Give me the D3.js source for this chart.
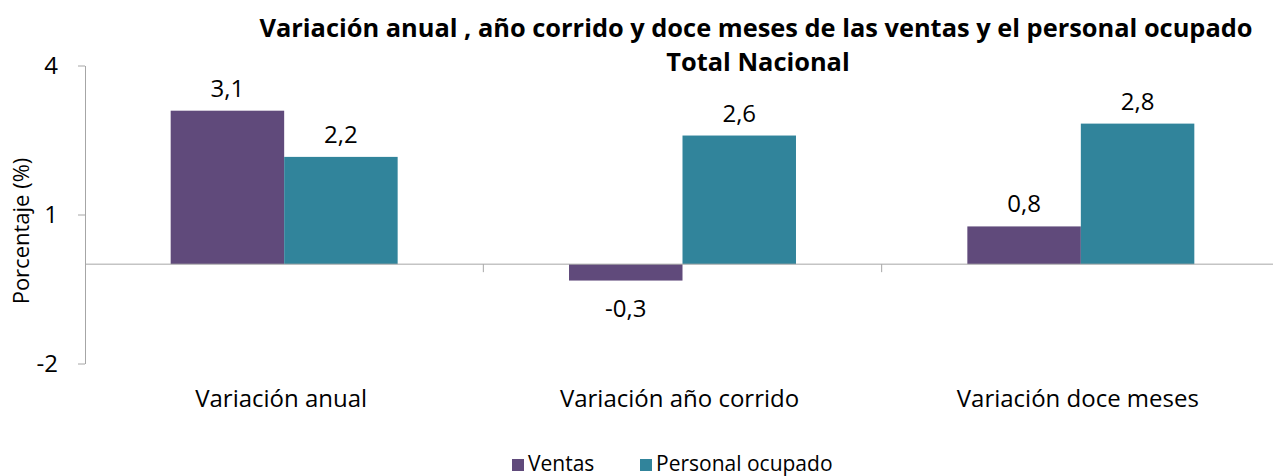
<!DOCTYPE html>
<html>
<head>
<meta charset="utf-8">
<script src="https://cdn.jsdelivr.net/npm/d3@7"></script>
<style>
  body { margin: 0; background: #fff; }
  svg { font-family: "Open Sans", "Noto Sans", sans-serif; }
</style>
</head>
<body>
<svg id="chart" width="1273" height="476"></svg>
<script>
// data
const categories = ['Variación anual', 'Variación año corrido', 'Variación doce meses'];
const seriesNames = ['Ventas', 'Personal ocupado'];
const ventas = [3.09, -0.33, 0.76];
const personal = [2.16, 2.59, 2.83];
const yTicks = [-2, 1, 4];
const colors = ['#604a7b', '#31849b'];

let svg = d3.select('#chart');

let x0 = d3.scaleBand().domain(categories).range([85, 1280]);
let x1 = d3.scaleBand().domain(seriesNames).range([0, x0.bandwidth()])
           .paddingInner(0).paddingOuter(0.755);
let y = d3.scaleLinear().domain([-2, 4]).range([363.5, 65.5]);

let axisColor = '#a6a6a6';

// title
let title = svg.append('text')
   .attr('text-anchor', 'middle')
   .attr('font-weight', 'bold')
   .attr('font-size', 25.4)
   .attr('fill', '#000');
title.append('tspan').attr('x', 756).attr('y', 37)
   .text('Variación anual , año corrido y doce meses de las ventas y el personal ocupado');
title.append('tspan').attr('x', 758).attr('y', 71).text('Total Nacional');

// y axis
let yAxis = svg.append('g')
   .attr('transform', 'translate(85,0)')
   .call(d3.axisLeft(y).tickValues(yTicks).tickSize(7).tickSizeOuter(0)
          .tickFormat(d => String(d)));
yAxis.select('.domain').attr('stroke', axisColor);
yAxis.selectAll('.tick line').attr('stroke', axisColor);
yAxis.selectAll('.tick text')
   .attr('font-size', 24)
   .attr('font-family', '"Open Sans", sans-serif')
   .attr('fill', '#000')
   .attr('x', -27);

svg.append('text')
   .attr('transform', 'translate(29,231) rotate(-90)')
   .attr('text-anchor', 'middle')
   .attr('font-size', 22)
   .text('Porcentaje (%)');

// bars
let rows = categories.map((c, i) => ({ cat: c, values: [ventas[i], personal[i]] }));

let groups = svg.selectAll('g.grp').data(rows).enter()
   .append('g').classed('grp', true)
   .attr('transform', d => 'translate(' + x0(d.cat) + ',0)');

let bars = groups.selectAll('rect').data(d => d.values.map((v, j) => ({ name: seriesNames[j], v: v, j: j })))
   .enter();

bars.append('rect')
   .attr('x', d => x1(d.name))
   .attr('width', x1.bandwidth())
   .attr('y', d => y(Math.max(0, d.v)))
   .attr('height', d => Math.abs(y(d.v) - y(0)))
   .attr('fill', d => colors[d.j]);

bars.append('text')
   .attr('x', d => x1(d.name) + x1.bandwidth() / 2)
   .attr('y', d => d.v >= 0 ? y(d.v) - 14 : y(d.v) + 36)
   .attr('text-anchor', 'middle')
   .attr('font-size', 24)
   .text(d => d.v.toFixed(1).replace('.', ','));

// zero line (category axis)
let xAxis = svg.append('g')
   .attr('transform', 'translate(0,' + y(0) + ')');
xAxis.append('line')
   .attr('x1', 85).attr('x2', 1280)
   .attr('stroke', axisColor);
xAxis.selectAll('line.tk').data(categories.slice(1)).enter()
   .append('line').classed('tk', true)
   .attr('x1', d => x0(d)).attr('x2', d => x0(d))
   .attr('y1', 0).attr('y2', 8)
   .attr('stroke', axisColor);

svg.selectAll('text.cat').data(categories).enter()
   .append('text').classed('cat', true)
   .attr('x', d => x0(d) + x0.bandwidth() / 2 - 3)
   .attr('y', 407)
   .attr('text-anchor', 'middle')
   .attr('font-size', 24)
   .text(d => d);

// legend
let legendX = [512, 640];
let legend = svg.selectAll('g.leg').data(seriesNames).enter()
   .append('g').classed('leg', true)
   .attr('transform', (d, i) => 'translate(' + legendX[i] + ',459)');
legend.append('rect')
   .attr('width', 12).attr('height', 12)
   .attr('fill', (d, i) => colors[i]);
legend.append('text')
   .attr('x', 16).attr('y', 12)
   .attr('font-size', 21)
   .text(d => d);
</script>
</body>
</html>
